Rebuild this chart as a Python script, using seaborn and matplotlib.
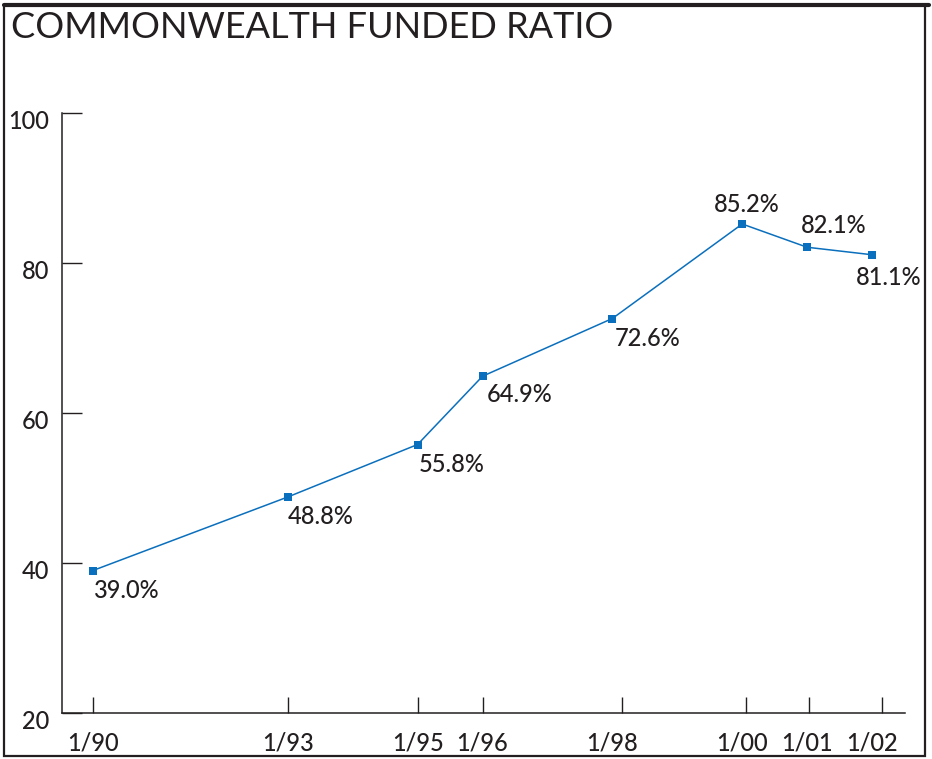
import matplotlib
matplotlib.use("Agg")
import matplotlib.pyplot as plt
import matplotlib.transforms as mtransforms
from matplotlib.patches import Rectangle
import seaborn as sns

# Commonwealth funded ratio (%), January of each year
anos = [1990, 1993, 1995, 1996, 1998, 2000, 2001, 2002]
razao = [39.0, 48.8, 55.8, 64.9, 72.6, 85.2, 82.1, 81.1]
rotulos_x = ['1/90', '1/93', '1/95', '1/96', '1/98', '1/00', '1/01', '1/02']
rotulos_pct = ['39.0%', '48.8%', '55.8%', '64.9%', '72.6%', '85.2%', '82.1%', '81.1%']
ticks_y = [20, 40, 60, 80, 100]
# tick marks on the bottom axis as printed (slightly off the points)
marcas_x = [1990, 1993, 1995, 1996, 1998.15, 2000.06, 2001.03, 2002.15]

AZUL = '#0a6fbd'
ESCURO = '#231f20'

sns.set_style('white')
plt.rcParams['font.family'] = ['Lato', 'DejaVu Sans']

fig = plt.figure(figsize=(9.32, 7.59), dpi=100)
W, H = 932, 759
ax = fig.add_axes([62 / W, (H - 713) / H, (905 - 62) / W, 600 / H])

sns.lineplot(x=anos, y=razao, ax=ax, color=AZUL, linewidth=1.1,
             marker='s', markersize=5.5, markeredgewidth=0, markerfacecolor=AZUL)

# label offsets in pixels: (dx, dy, ha, va)
pos_rot = [(1, -8, 'left', 'top'), (0, -8, 'left', 'top'), (1, -8, 'left', 'top'),
           (4, -7, 'left', 'top'), (2, -8, 'left', 'top'), (5, 8, 'center', 'bottom'),
           (27, 10, 'center', 'bottom'), (17, -11, 'center', 'top')]
for x, y, t, (dx, dy, ha, va) in zip(anos, razao, rotulos_pct, pos_rot):
    ax.annotate(t, (x, y), xytext=(dx, dy), textcoords='offset pixels',
                ha=ha, va=va, fontsize=17, fontweight='medium', color=ESCURO)

ax.set_xlim(1990 - 31 / 65, 2002 + 33 / 65)
ax.set_ylim(20, 100)
ax.set_yticks(ticks_y)
ax.set_yticklabels([str(v) for v in ticks_y], fontweight='medium')
ax.set_xticks(anos)
ax.set_xticklabels(rotulos_x, fontweight='medium')
ax.xaxis.remove_overlapping_locs = False
ax.set_xticks(marcas_x, minor=True)

ax.tick_params(axis='y', direction='in', length=14.5, width=1.0, color=ESCURO,
               labelsize=17, labelcolor=ESCURO, pad=9, left=True)
ax.tick_params(axis='x', which='major', length=0, labelsize=17,
               labelcolor=ESCURO, pad=13)
ax.tick_params(axis='x', which='minor', direction='in', length=11.5, width=1.0,
               color=ESCURO, bottom=True)

off = mtransforms.ScaledTranslation(0, -5 / 72, fig.dpi_scale_trans)
for lab in ax.get_yticklabels():
    lab.set_transform(lab.get_transform() + off)

for s in ['top', 'right']:
    ax.spines[s].set_visible(False)
for s in ['left', 'bottom']:
    ax.spines[s].set_color(ESCURO)
    ax.spines[s].set_linewidth(1.1)

fig.text(11 / W, 1 - 28 / H, 'COMMONWEALTH FUNDED RATIO', fontsize=26,
         fontweight='normal', color=ESCURO, ha='left', va='center')

# moldura em volta da figura
fig.patches.append(Rectangle((3.5 / W, 3 / H), (925 - 3.5) / W, (754 - 3) / H,
                             transform=fig.transFigure, fill=False,
                             edgecolor=ESCURO, linewidth=1.6))
fig.add_artist(plt.Line2D([3.5 / W, 928.5 / W], [1 - 5 / H, 1 - 5 / H],
                          transform=fig.transFigure, color=ESCURO, linewidth=3))

fig.savefig('out.png', dpi=100)
